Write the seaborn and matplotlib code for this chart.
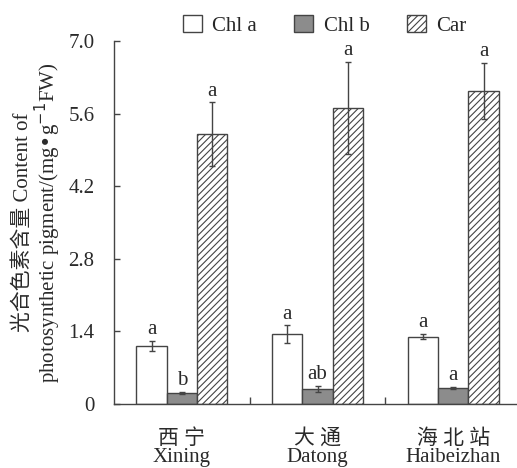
import numpy as np
import pandas as pd
import matplotlib
matplotlib.use("Agg")
import matplotlib.pyplot as plt
from matplotlib.patches import Patch
import seaborn as sns

# Sites (Chinese / English) and pigments
sites_cn = ["西 宁", "大 通", "海 北 站"]
sites_en = ["Xining", "Datong", "Haibeizhan"]
pigments = ["Chl a", "Chl b", "Car"]

# Mean pigment content (mg·g^-1 FW) per site
chl_a = [1.12, 1.35, 1.30]
chl_b = [0.21, 0.29, 0.31]
car = [5.20, 5.71, 6.04]

# Standard errors
chl_a_err = [0.10, 0.17, 0.05]
chl_b_err = [0.02, 0.06, 0.02]
car_err = [0.62, 0.89, 0.54]

# Significance letters
chl_a_sig = ["a", "a", "a"]
chl_b_sig = ["b", "ab", "a"]
car_sig = ["a", "a", "a"]

df = pd.DataFrame({
    "site": sites_en * 3,
    "pigment": [p for p in pigments for _ in sites_en],
    "value": chl_a + chl_b + car,
})
errs = {"Chl a": chl_a_err, "Chl b": chl_b_err, "Car": car_err}
sigs = {"Chl a": chl_a_sig, "Chl b": chl_b_sig, "Car": car_sig}

sns.set_style("white")
plt.rcParams["font.family"] = ["Liberation Serif", "Noto Sans CJK SC"]
plt.rcParams["hatch.color"] = "#444444"
plt.rcParams["hatch.linewidth"] = 0.8

edge = "#444444"
txt = "#2a2a2a"
fs = 15

fig = plt.figure(figsize=(5.17, 4.68), dpi=100)
ax = fig.add_axes([0.2205, 0.1368, 0.7795, 0.7756])

palette = {"Chl a": "white", "Chl b": "#8c8c8c", "Car": "white"}
sns.barplot(data=df, x="site", y="value", hue="pigment", order=sites_en,
            hue_order=pigments, palette=palette, errorbar=None,
            width=0.67, edgecolor=edge, linewidth=1.0, ax=ax, legend=False)

for cont, pig in zip(ax.containers, pigments):
    for i, bar in enumerate(cont):
        if pig == "Car":
            bar.set_hatch("/////")
        xc = bar.get_x() + bar.get_width() / 2
        h = bar.get_height()
        e = errs[pig][i]
        ax.errorbar(xc, h, yerr=e, fmt="none", ecolor=edge, elinewidth=1.0,
                    capsize=2.5, capthick=1.0, zorder=5)
        ax.text(xc, h + e + 0.03, sigs[pig][i], ha="center", va="bottom",
                fontsize=fs, color=txt)

ax.set_xlim(-0.5, 2.47)
ax.set_ylim(0, 7.0)
ax.set_yticks([0, 1.4, 2.8, 4.2, 5.6, 7.0])
ax.set_yticklabels(["0", "1.4", "2.8", "4.2", "5.6", "7.0"])
ax.set_xticks([0, 1, 2])
ax.set_xticklabels([f"{c}\n{e}" for c, e in zip(sites_cn, sites_en)],
                   linespacing=0.95)
ax.set_xlabel("")
ax.tick_params(axis="x", length=0, labelsize=fs, pad=18, colors=txt)
ax.tick_params(axis="y", direction="in", length=4, width=1.0, labelsize=fs,
               pad=14, colors=txt, left=True)
ax.tick_params(axis="y", color=edge)
# Separators between site groups along the x axis
ax.set_xticks([0.5, 1.5], minor=True)
ax.tick_params(axis="x", which="minor", direction="in", length=5, width=1.0,
               color=edge, bottom=True)

for s in ["top", "right"]:
    ax.spines[s].set_visible(False)
for s in ["left", "bottom"]:
    ax.spines[s].set_color(edge)
    ax.spines[s].set_linewidth(1.0)

ax.set_ylabel("光合色素含量 Content of\nphotosynthetic pigment/(mg\u2022g$^{-1}$FW)",
              fontsize=fs, color=txt, labelpad=4, linespacing=1.0)

# Legend
handles = [Patch(facecolor="white", edgecolor=edge, label="Chl a"),
           Patch(facecolor="#8c8c8c", edgecolor=edge, label="Chl b"),
           Patch(facecolor="white", edgecolor=edge, hatch="/////", label="Car")]
fig.legend(handles=handles, loc="center", bbox_to_anchor=(0.628, 0.946), ncol=3,
           frameon=False, handlelength=0.9, handleheight=0.9,
           handletextpad=0.5, columnspacing=1.8, prop={"size": fs})

fig.savefig("out.png", dpi=100)
